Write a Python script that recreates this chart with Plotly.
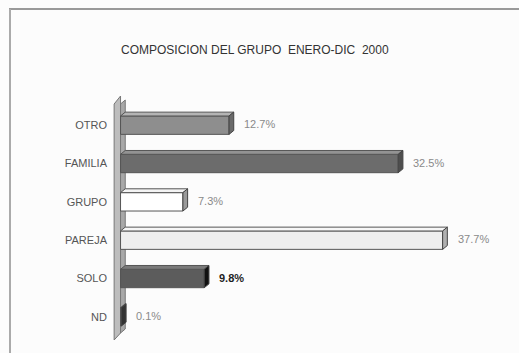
import plotly.graph_objects as go

# Composition of travelling groups, Jan-Dec 2000
categories = ["OTRO", "FAMILIA", "GRUPO", "PAREJA", "SOLO", "ND"]
shares = [12.7, 32.5, 7.3, 37.7, 9.8, 0.1]
value_labels = ["12.7%", "32.5%", "7.3%", "37.7%", "9.8%", "0.1%"]
title_text = "COMPOSICION DEL GRUPO  ENERO-DIC  2000"

front_colors = ["#8e8e8e", "#6c6c6c", "#ffffff", "#eeeeee", "#5c5c5c", "#5a5a5a"]
top_colors = ["#b4b4b4", "#939393", "#f4f4f4", "#f7f7f7", "#7a7a7a", "#7a7a7a"]
end_colors = ["#6a6a6a", "#4e4e4e", "#9a9a9a", "#b0b0b0", "#111111", "#333333"]

FONT = "Liberation Sans, Arial, sans-serif"
W, H = 519, 353
ML, MR, MT, MB = 112, 14, 106, 17
PW, PH = W - ML - MR, H - MT - MB

bar_width = 0.48
depth_x = 0.55   # x-offset of the 3D depth (in % units)
depth_y = 0.10   # y-offset of the 3D depth (in category units)


def px_x(px):
    return (px - ML) / PW


def px_y(py):
    return (H - MB - py) / PH


fig = go.Figure()
fig.add_trace(go.Bar(
    x=shares, y=categories, orientation="h", width=bar_width,
    marker=dict(color=front_colors, line=dict(color="#555555", width=1)),
    hoverinfo="skip", showlegend=False,
))

shapes = []
# back wall behind the category axis
shapes.append(dict(
    type="path", xref="x", yref="paper", layer="below",
    path=(f"M -0.75 {px_y(104)} L 0.0 {px_y(96)} L 0.0 {px_y(333)} "
          f"L -0.75 {px_y(340)} Z"),
    fillcolor="#bdbdbd", line=dict(color="#777777", width=1),
))
shapes.append(dict(
    type="path", xref="x", yref="paper", layer="below",
    path=(f"M 0.0 {px_y(104)} L {depth_x} {px_y(100)} L {depth_x} {px_y(329)} "
          f"L 0.0 {px_y(333)} Z"),
    fillcolor="#a8a8a8", line=dict(color="#777777", width=1),
))

for i, v in enumerate(shares):
    top = i - bar_width / 2
    bot = i + bar_width / 2
    # top face
    shapes.append(dict(
        type="path", xref="x", yref="y",
        path=(f"M 0 {top} L {v} {top} L {v + depth_x} {top - depth_y} "
              f"L {depth_x} {top - depth_y} Z"),
        fillcolor=top_colors[i], line=dict(color="#555555", width=1),
    ))
    # end face
    shapes.append(dict(
        type="path", xref="x", yref="y",
        path=(f"M {v} {top} L {v + depth_x} {top - depth_y} "
              f"L {v + depth_x} {bot - depth_y} L {v} {bot} Z"),
        fillcolor=end_colors[i], line=dict(color="#444444", width=1),
    ))

# chart frame (top and left edges)
shapes.append(dict(type="line", xref="paper", yref="paper",
                   x0=px_x(9), x1=px_x(W), y0=px_y(9), y1=px_y(9),
                   line=dict(color="#999999", width=2)))
shapes.append(dict(type="line", xref="paper", yref="paper",
                   x0=px_x(10), x1=px_x(10), y0=px_y(9), y1=px_y(H),
                   line=dict(color="#aaaaaa", width=2)))

annotations = []
for i, (v, lab) in enumerate(zip(shares, value_labels)):
    bold = categories[i] == "SOLO"
    annotations.append(dict(
        x=v, y=categories[i], xref="x", yref="y", text=lab,
        showarrow=False, xanchor="left", xshift=13,
        yshift=1,
        font=dict(family=FONT, size=11,
                  color="#1e1e1e" if bold else "#8a8a8a",
                  weight="bold" if bold else "normal"),
    ))

annotations.append(dict(
    text=title_text, xref="paper", yref="paper",
    x=px_x(255), y=px_y(50), showarrow=False,
    xanchor="center", yanchor="middle",
    font=dict(family=FONT, size=12, color="#333333"),
))

fig.update_layout(
    width=W, height=H,
    margin=dict(l=ML, r=MR, t=MT, b=MB),
    paper_bgcolor="#fcfcfc", plot_bgcolor="rgba(0,0,0,0)",
    shapes=shapes,
    annotations=annotations,
    xaxis=dict(range=[-1, 45], visible=False, fixedrange=True),
    yaxis=dict(categoryorder="array", categoryarray=categories,
               range=[len(categories) - 0.5, -0.5],
               showgrid=False, zeroline=False, showline=False, ticks="",
               ticklabelstandoff=4,
               tickfont=dict(family=FONT, size=11, color="#555555")),
    font=dict(family=FONT),
)

fig.write_html("out.html")
